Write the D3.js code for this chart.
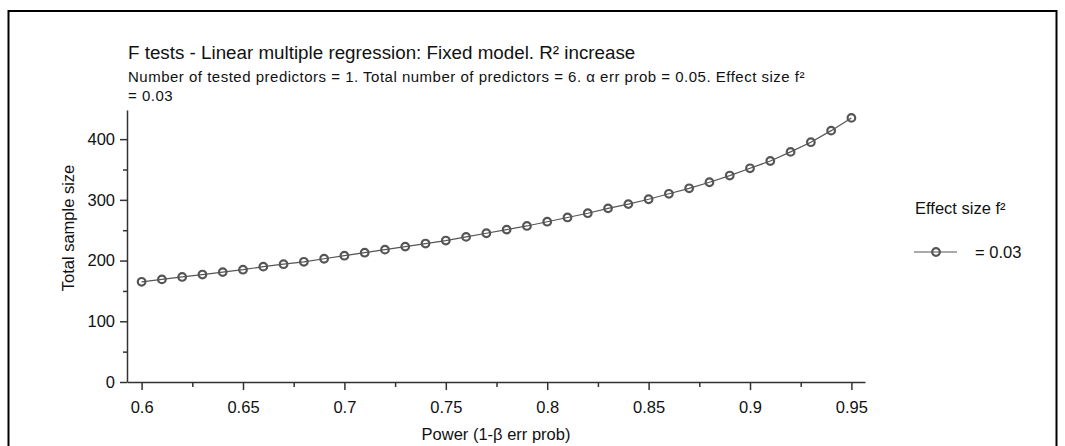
<!DOCTYPE html>
<html>
<head>
<meta charset="utf-8">
<script src="https://cdn.jsdelivr.net/npm/d3@7"></script>
<style>
  html, body { margin: 0; padding: 0; background: #fff; }
  #chartContainer { width: 1065px; height: 446px; }
  text { font-family: "Liberation Sans", Arial, sans-serif; fill: #111; }
</style>
</head>
<body>
<div id="chartContainer"></div>
<script>
// Data
const powerValues = [0.60, 0.61, 0.62, 0.63, 0.64, 0.65, 0.66, 0.67, 0.68, 0.69,
                     0.70, 0.71, 0.72, 0.73, 0.74, 0.75, 0.76, 0.77, 0.78, 0.79,
                     0.80, 0.81, 0.82, 0.83, 0.84, 0.85, 0.86, 0.87, 0.88, 0.89,
                     0.90, 0.91, 0.92, 0.93, 0.94, 0.95];
const sampleSizes = [165, 169, 173, 177, 181, 185, 190, 194, 198, 203,
                     208, 213, 218, 223, 228, 233, 239, 245, 251, 257,
                     264, 271, 278, 286, 293, 301, 310, 319, 329, 340,
                     352, 364, 379, 395, 414, 435];
const xTickValues = [0.6, 0.65, 0.7, 0.75, 0.8, 0.85, 0.9, 0.95];
const xMinorTicks = [0.625, 0.675, 0.725, 0.775, 0.825, 0.875, 0.925];
const yTickValues = [0, 100, 200, 300, 400];
const yMinorTicks = [50, 150, 250, 350];
const seriesLabels = ["= 0.03"];

const titleText = "F tests - Linear multiple regression: Fixed model. R² increase";
const subtitleLines = [
    "Number of tested predictors = 1. Total number of predictors = 6. α err prob = 0.05. Effect size f²",
    "= 0.03"
];

function drawChart() {
    const width = 1065;
    const height = 446;
    const plot = { left: 127, right: 865, top: 110, bottom: 382 };
    const ink = "#555";
    const fontSize = "16.5px";

    const data = powerValues.map((p, i) => ({ power: p, n: sampleSizes[i] }));

    const x = d3.scaleLinear()
        .domain([0.5928, 0.9567])
        .range([plot.left, plot.right]);

    const y = d3.scaleLinear()
        .domain([0, 448])
        .range([plot.bottom, plot.top]);

    const svg = d3.select("#chartContainer")
        .append("svg")
        .attr("width", width)
        .attr("height", height);

    // Dış çerçeve
    svg.append("rect")
        .attr("x", 8.5)
        .attr("y", 11)
        .attr("width", 1048)
        .attr("height", 460)
        .attr("fill", "none")
        .attr("stroke", "#000")
        .attr("stroke-width", 2);

    // Başlık
    svg.append("text")
        .attr("x", 128)
        .attr("y", 59)
        .style("font-size", "18.8px")
        .text(titleText);

    svg.selectAll(".subtitle")
        .data(subtitleLines)
        .enter().append("text")
        .attr("class", "subtitle")
        .attr("x", 128)
        .attr("y", (d, i) => 82 + i * 19)
        .style("font-size", "15px")
        .style("letter-spacing", "0.5px")
        .text(d => d);

    // X ekseni
    svg.append("g")
        .attr("transform", `translate(0,${plot.bottom})`)
        .call(d3.axisBottom(x)
            .tickValues(xTickValues)
            .tickSize(8)
            .tickSizeOuter(0)
            .tickPadding(11)
            .tickFormat(d => String(+d.toFixed(2))));

    svg.append("g")
        .attr("transform", `translate(0,${plot.bottom})`)
        .call(d3.axisBottom(x)
            .tickValues(xMinorTicks)
            .tickSize(5)
            .tickSizeOuter(0)
            .tickFormat(""))
        .select(".domain").remove();

    // Y ekseni
    svg.append("g")
        .attr("transform", `translate(${plot.left},0)`)
        .call(d3.axisLeft(y)
            .tickValues(yTickValues)
            .tickSize(7)
            .tickSizeOuter(0)
            .tickPadding(5));

    svg.append("g")
        .attr("transform", `translate(${plot.left},0)`)
        .call(d3.axisLeft(y)
            .tickValues(yMinorTicks)
            .tickSize(4)
            .tickSizeOuter(0)
            .tickFormat(""))
        .select(".domain").remove();

    svg.selectAll(".domain, .tick line")
        .attr("stroke", "#333")
        .attr("stroke-width", 1.5);

    svg.selectAll(".tick text")
        .style("font-size", fontSize)
        .style("font-family", "'Liberation Sans', Arial, sans-serif")
        .attr("fill", "#111");

    // Eksen etiketleri
    svg.append("text")
        .attr("x", (plot.left + plot.right) / 2)
        .attr("y", 440)
        .attr("text-anchor", "middle")
        .style("font-size", fontSize)
        .text("Power (1-β err prob)");

    svg.append("text")
        .attr("transform", "rotate(-90)")
        .attr("x", -228)
        .attr("y", 74)
        .attr("text-anchor", "middle")
        .style("font-size", fontSize)
        .text("Total sample size");

    // Çizgi
    const line = d3.line()
        .x(d => x(d.power))
        .y(d => y(d.n));

    svg.append("path")
        .datum(data)
        .attr("fill", "none")
        .attr("stroke", ink)
        .attr("stroke-width", 1.2)
        .attr("d", line);

    // Noktalar
    svg.selectAll(".dot")
        .data(data)
        .enter().append("circle")
        .attr("class", "dot")
        .attr("cx", d => x(d.power))
        .attr("cy", d => y(d.n))
        .attr("r", 3.8)
        .attr("fill", "none")
        .attr("stroke", ink)
        .attr("stroke-width", 2.2);

    // Lejant
    const legend = svg.append("g");

    legend.append("text")
        .attr("x", 915)
        .attr("y", 214)
        .style("font-size", fontSize)
        .text("Effect size f²");

    const item = legend.selectAll(".item")
        .data(seriesLabels)
        .enter().append("g")
        .attr("class", "item")
        .attr("transform", (d, i) => `translate(0,${252 + i * 22})`);

    item.append("line")
        .attr("x1", 914)
        .attr("x2", 957)
        .attr("stroke", ink)
        .attr("stroke-width", 1.2);

    item.append("circle")
        .attr("cx", 936)
        .attr("r", 3.8)
        .attr("fill", "none")
        .attr("stroke", ink)
        .attr("stroke-width", 2.2);

    item.append("text")
        .attr("x", 975)
        .attr("y", 6)
        .style("font-size", fontSize)
        .text(d => d);
}

drawChart();
</script>
</body>
</html>
